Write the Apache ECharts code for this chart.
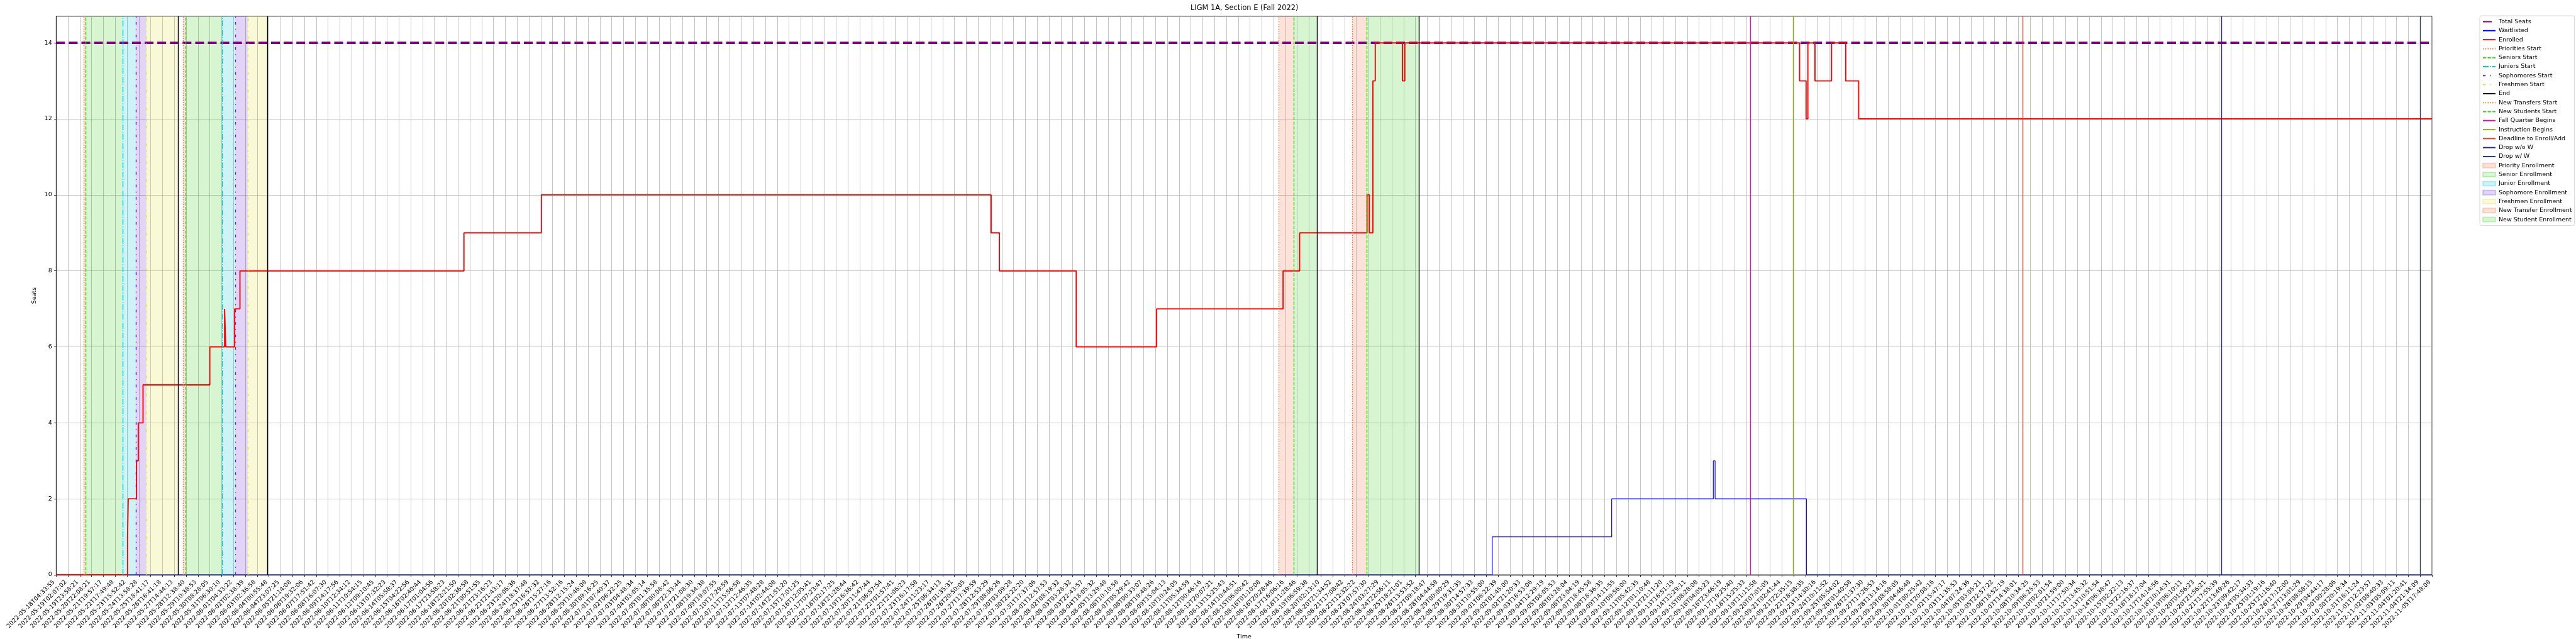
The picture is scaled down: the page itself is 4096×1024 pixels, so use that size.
<!DOCTYPE html>
<html><head><meta charset="utf-8">
<script src="https://cdn.jsdelivr.net/npm/echarts@6/dist/echarts.min.js"></script>
<style>html,body{margin:0;padding:0;background:#fff}#c{width:4096px;height:1024px}</style>
</head><body><div id="c"></div>
<script>
// ---- x tick labels (one per sample-index tick) ----
const tickLabels = [
"2022-05-18T04:33:55","2022-05-19T02:07:02","2022-05-19T23:58:21","2022-05-20T22:08:21","2022-05-21T19:57:17",
"2022-05-22T17:49:48","2022-05-23T15:52:42","2022-05-24T13:58:28","2022-05-25T18:41:17","2022-05-26T16:41:18",
"2022-05-27T14:44:13","2022-05-28T12:38:40","2022-05-29T10:38:53","2022-05-30T08:28:05","2022-05-31T06:30:10",
"2022-06-01T04:33:22","2022-06-02T02:38:39","2022-06-03T02:36:58","2022-06-04T00:55:48","2022-06-04T23:07:25",
"2022-06-05T21:14:08","2022-06-06T19:32:06","2022-06-07T17:51:42","2022-06-08T16:07:30","2022-06-09T14:17:56",
"2022-06-10T12:34:12","2022-06-11T10:54:15","2022-06-12T09:10:45","2022-06-13T07:32:23","2022-06-14T05:58:37",
"2022-06-15T04:22:56","2022-06-16T02:40:44","2022-06-17T01:04:56","2022-06-17T23:58:23","2022-06-18T22:21:50",
"2022-06-20T02:36:58","2022-06-21T00:51:55","2022-06-21T23:16:23","2022-06-22T21:43:17","2022-06-23T20:06:36",
"2022-06-24T18:37:48","2022-06-25T16:57:32","2022-06-26T15:27:16","2022-06-27T13:52:16","2022-06-28T12:15:24",
"2022-06-29T10:46:08","2022-06-30T09:16:25","2022-07-01T07:40:37","2022-07-02T06:22:25","2022-07-03T04:48:34",
"2022-07-04T03:05:14","2022-07-05T01:35:58","2022-07-06T00:08:42","2022-07-06T22:33:44","2022-07-07T21:08:30",
"2022-07-08T19:34:38","2022-07-09T19:07:55","2022-07-10T17:29:59","2022-07-11T15:56:58","2022-07-12T12:46:35",
"2022-07-13T07:48:28","2022-07-14T02:44:08","2022-07-14T21:51:20","2022-07-15T17:01:25","2022-07-16T12:05:41",
"2022-07-17T07:23:47","2022-07-18T02:17:25","2022-07-18T21:28:44","2022-07-19T16:36:42","2022-07-20T11:47:44",
"2022-07-21T06:57:54","2022-07-22T01:57:41","2022-07-22T21:06:23","2022-07-23T16:17:58","2022-07-24T11:23:17",
"2022-07-25T06:34:13","2022-07-26T01:35:31","2022-07-26T20:50:05","2022-07-27T17:39:59","2022-07-28T12:53:29",
"2022-07-29T08:06:26","2022-07-30T03:09:28","2022-07-30T22:22:20","2022-07-31T17:37:06","2022-08-01T12:57:53",
"2022-08-02T08:19:32","2022-08-03T03:28:32","2022-08-03T22:43:57","2022-08-04T18:05:32","2022-08-05T13:29:48",
"2022-08-06T10:10:58","2022-08-07T05:29:42","2022-08-08T00:33:07","2022-08-08T19:48:26","2022-08-09T15:04:13",
"2022-08-10T10:24:05","2022-08-11T05:34:59","2022-08-12T00:46:16","2022-08-12T20:07:21","2022-08-13T15:25:43",
"2022-08-14T10:44:51","2022-08-15T06:00:42","2022-08-16T01:10:08","2022-08-16T20:28:46","2022-08-17T16:06:16",
"2022-08-18T11:28:46","2022-08-19T06:59:38","2022-08-20T02:13:10","2022-08-20T21:34:52","2022-08-21T17:08:42",
"2022-08-22T12:32:22","2022-08-23T07:57:30","2022-08-24T03:27:29","2022-08-24T22:56:11","2022-08-25T18:21:01",
"2022-08-26T13:53:52","2022-08-27T09:18:47","2022-08-28T04:44:58","2022-08-29T00:00:29","2022-08-29T19:31:35",
"2022-08-30T14:57:33","2022-08-31T10:55:00","2022-09-01T06:22:39","2022-09-02T01:45:00","2022-09-02T21:20:33",
"2022-09-03T16:53:06","2022-09-04T12:29:19","2022-09-05T08:05:53","2022-09-06T03:28:04","2022-09-06T23:04:19",
"2022-09-07T18:45:58","2022-09-08T18:36:35","2022-09-09T14:11:55","2022-09-10T09:56:00","2022-09-11T05:42:35",
"2022-09-12T01:10:48","2022-09-12T21:11:20","2022-09-13T16:51:19","2022-09-14T12:29:11","2022-09-15T08:28:08",
"2022-09-16T04:05:23","2022-09-16T23:46:19","2022-09-17T19:25:40","2022-09-18T15:25:33","2022-09-19T11:11:58",
"2022-09-20T07:01:05","2022-09-21T02:41:44","2022-09-21T22:35:15","2022-09-22T18:38:35","2022-09-23T14:30:16",
"2022-09-24T10:11:52","2022-09-25T05:54:02","2022-09-26T01:40:58","2022-09-26T21:37:30","2022-09-27T17:26:53",
"2022-09-28T13:14:16","2022-09-29T08:58:05","2022-09-30T04:46:48","2022-10-01T00:25:42","2022-10-01T20:08:16",
"2022-10-02T15:47:17","2022-10-03T11:35:53","2022-10-04T07:24:36","2022-10-05T03:05:21","2022-10-05T22:57:22",
"2022-10-06T18:52:19","2022-10-07T14:38:01","2022-10-08T10:34:25","2022-10-09T06:25:53","2022-10-10T02:01:54",
"2022-10-10T21:59:00","2022-10-11T17:50:34","2022-10-12T13:45:32","2022-10-13T10:51:54","2022-10-14T06:38:47",
"2022-10-15T02:22:13","2022-10-15T22:16:37","2022-10-16T18:17:04","2022-10-17T14:14:56","2022-10-18T10:14:31",
"2022-10-19T06:10:11","2022-10-20T01:56:23","2022-10-20T21:56:21","2022-10-21T17:55:39","2022-10-22T13:49:26",
"2022-10-23T09:42:17","2022-10-24T05:34:33","2022-10-25T01:19:16","2022-10-25T21:16:40","2022-10-26T17:12:00",
"2022-10-27T13:01:29","2022-10-28T08:58:15","2022-10-29T04:44:17","2022-10-30T00:28:06","2022-10-30T20:19:34",
"2022-10-31T16:11:24","2022-11-01T12:23:57","2022-11-02T08:40:33","2022-11-03T05:09:11","2022-11-04T01:20:41",
"2022-11-04T21:34:09","2022-11-05T17:48:08"
];
const yTicks = [0, 2, 4, 6, 8, 10, 12, 14];

// ---- series (x in sample-index units of the tick axis) ----
const totalSeatsX = [0, 201];
const totalSeatsY = [14, 14];
const waitlistX = [0, 121.5, 131.6, 140.2, 140.35, 148.08, 201];
const waitlistY = [0, 1, 2, 3, 2, 0, 0];
const enrolledX = [0, 6.04, 6.1, 6.8, 6.95, 7.35, 13.0, 14.25, 14.35, 15.1, 15.55, 34.5, 41.05, 79.1, 79.8, 86.3, 93.1, 103.8, 105.2, 110.9, 111.1, 111.4, 111.6, 113.9, 114.1, 147.5, 148.05, 148.2, 148.8, 149.9, 150.2, 151.4, 152.5, 201];
const enrolledY = [0, 1, 2, 3, 4, 5, 6, 7, 6, 7, 8, 9, 10, 9, 8, 6, 7, 8, 9, 10, 9, 13, 14, 13, 14, 13, 12, 14, 13, 13, 14, 13, 12, 12];

// ---- event lines ----
const prioritiesStart = [2.33, 10.75];
const seniorsStart = [2.52, 10.96];
const juniorsStart = [5.65, 14.05];
const sophomoresStart = [6.73, 15.14];
const freshmenStart = [7.63, 16.2];
const endLines = [10.33, 17.88, 106.69, 115.32];
const newTransfersStart = [103.45, 109.64];
const newStudentsStart = [104.70, 110.86];
const fallQuarterBegins = [143.32];
const instructionBegins = [146.95];
const deadlineEnroll = [166.36];
const dropNoW = [183.2];
const dropW = [200.0];

// ---- enrollment windows [start, end] ----
const priorityEnroll = [[2.33, 2.52], [10.75, 10.96]];
const seniorEnroll = [[2.52, 5.65], [10.96, 14.05]];
const juniorEnroll = [[5.65, 6.73], [14.05, 15.14]];
const sophomoreEnroll = [[6.73, 7.63], [15.14, 16.2]];
const freshmenEnroll = [[7.63, 10.33], [16.2, 17.88]];
const newTransferEnroll = [[103.45, 104.70], [109.64, 110.86]];
const newStudentEnroll = [[104.70, 106.69], [110.86, 115.32]];

const FONT = 'DejaVu Sans';
const zip = (xs, ys) => xs.map((x, i) => [x, ys[i]]);
const VW = 1.42;
const dotted = [1.42, 2.35], dashed = [5.26, 2.27], dashdot = [9.08, 2.27, 1.42, 2.27];
const loosedd = [4.26, 7.1, 1.42, 7.1], dashdotdot = [4.26, 7.1, 1.42, 7.1, 1.42, 7.1];

function vline(name, xs, color, type, width) {
  const ls = {color: color, width: width || VW, type: type, cap: 'butt'};
  return {
    name: name, type: 'line', data: [], symbol: 'none', color: color,
    lineStyle: ls, z: 4,
    markLine: {silent: true, symbol: ['none', 'none'], label: {show: false}, animation: false,
      lineStyle: ls, emphasis: {disabled: true},
      data: xs.map(x => ({xAxis: x}))}
  };
}
function span(name, ranges, fill, border) {
  return {
    name: name, type: 'line', data: [], symbol: 'none', color: fill,
    itemStyle: {color: fill, borderColor: border, borderWidth: 0.7},
    lineStyle: {color: fill}, z: 1,
    markArea: {silent: true, animation: false, itemStyle: {color: fill}, emphasis: {disabled: true},
      data: ranges.map(r => [{xAxis: r[0]}, {xAxis: r[1]}])}
  };
}

const series = [
  {name: 'Total Seats', type: 'line', data: zip(totalSeatsX, totalSeatsY), symbol: 'none', color: '#800080',
   lineStyle: {color: '#800080', width: 3.8, type: [14.0, 6.1], cap: 'butt'}, z: 3},
  {name: 'Waitlisted', type: 'line', step: 'end', data: zip(waitlistX, waitlistY), symbol: 'none', color: '#0000ff',
   lineStyle: {color: '#0000ff', width: 1.15}, z: 3},
  {name: 'Enrolled', type: 'line', step: 'end', data: zip(enrolledX, enrolledY), symbol: 'none', color: '#ff0000',
   lineStyle: {color: '#ff0000', width: 1.9}, z: 3},
  vline('Priorities Start', prioritiesStart, '#f26b38', dotted),
  vline('Seniors Start', seniorsStart, '#3fcc17', dashed),
  vline('Juniors Start', juniorsStart, '#00c5d8', dashdot),
  vline('Sophomores Start', sophomoresStart, '#6722d6', loosedd),
  vline('Freshmen Start', freshmenStart, '#dede2a', dashdotdot),
  vline('End', endLines, '#000000', 'solid'),
  vline('New Transfers Start', newTransfersStart, '#f26b38', dotted),
  vline('New Students Start', newStudentsStart, '#3fcc17', dashed),
  vline('Fall Quarter Begins', fallQuarterBegins, '#e0119d', 'solid'),
  vline('Instruction Begins', instructionBegins, '#8cb020', 'solid'),
  vline('Deadline to Enroll/Add', deadlineEnroll, '#d9441f', 'solid'),
  vline('Drop w/o W', dropNoW, '#2e2a8f', 'solid'),
  vline('Drop w/ W', dropW, '#2f3d5e', 'solid'),
  span('Priority Enrollment', priorityEnroll, 'rgba(240,110,60,0.2)', 'rgba(240,110,60,0.25)'),
  span('Senior Enrollment', seniorEnroll, 'rgba(60,205,30,0.2)', 'rgba(60,205,30,0.25)'),
  span('Junior Enrollment', juniorEnroll, 'rgba(0,200,212,0.2)', 'rgba(0,200,212,0.25)'),
  span('Sophomore Enrollment', sophomoreEnroll, 'rgba(105,40,215,0.2)', 'rgba(105,40,215,0.25)'),
  span('Freshmen Enrollment', freshmenEnroll, 'rgba(225,225,60,0.2)', 'rgba(225,225,60,0.25)'),
  span('New Transfer Enrollment', newTransferEnroll, 'rgba(240,110,60,0.2)', 'rgba(240,110,60,0.25)'),
  span('New Student Enrollment', newStudentEnroll, 'rgba(60,205,30,0.2)', 'rgba(60,205,30,0.25)')
];

const HIDE = {color: 'rgba(0,0,0,0)', borderColor: 'rgba(0,0,0,0)', borderWidth: 0};
const legendData = series.map(s => {
  const d = {name: s.name};
  if (s.markArea) d.icon = 'rect';
  else d.itemStyle = HIDE;
  return d;
});

const chart = echarts.init(document.getElementById('c'), null, {renderer: 'canvas'});
chart.setOption({
  animation: false,
  backgroundColor: '#ffffff',
  textStyle: {fontFamily: FONT},
  title: {text: 'LIGM 1A, Section E (Fall 2022)', left: 1893, top: 8, padding: 0,
    textStyle: {fontFamily: FONT, fontSize: 11.4, fontWeight: 'normal', color: '#000'}},
  grid: {left: 89.3, right: 229, top: 25.9, bottom: 110, show: true, borderColor: '#000', borderWidth: 0.8,
    backgroundColor: 'transparent', containLabel: false},
  legend: {
    orient: 'vertical', left: 3943, top: 25, padding: [4, 4, 4, 4], itemGap: 3.3, itemWidth: 20, itemHeight: 7,
    borderColor: '#cccccc', borderWidth: 0.8, borderRadius: 3, backgroundColor: 'rgba(255,255,255,0.8)',
    textStyle: {fontFamily: FONT, fontSize: 9.5, color: '#000', lineHeight: 11},
    selectedMode: false, data: legendData
  },
  xAxis: {
    type: 'value', min: 0, max: tickLabels.length - 1, interval: 1,
    name: 'Time', nameLocation: 'middle', nameGap: 87,
    nameTextStyle: {fontFamily: FONT, fontSize: 9.5, color: '#000'},
    axisLine: {show: true, lineStyle: {color: '#000', width: 0.8}},
    axisTick: {show: true, length: 3.3, lineStyle: {color: '#000', width: 0.8}},
    axisLabel: {show: true, rotate: 45, margin: 6.6, fontFamily: FONT, fontSize: 9.5, color: '#000',
      padding: [0, 5, 0, 0],
      formatter: v => tickLabels[Math.round(v)] || ''},
    splitLine: {show: true, lineStyle: {color: '#b0b0b0', width: 0.75}}
  },
  yAxis: {
    type: 'value', min: 0, max: 14.7, interval: 2,
    name: 'Seats', nameLocation: 'middle', nameGap: 22,
    nameTextStyle: {fontFamily: FONT, fontSize: 9.5, color: '#000'},
    axisLine: {show: true, lineStyle: {color: '#000', width: 0.8}},
    axisTick: {show: true, length: 3.3, lineStyle: {color: '#000', width: 0.8}, customValues: yTicks},
    axisLabel: {show: true, margin: 6.6, fontFamily: FONT, fontSize: 9.5, color: '#000', customValues: yTicks,
      formatter: v => String(v)},
    splitLine: {show: true, lineStyle: {color: '#b0b0b0', width: 0.75}}
  },
  series: series
});
</script>
</body></html>
